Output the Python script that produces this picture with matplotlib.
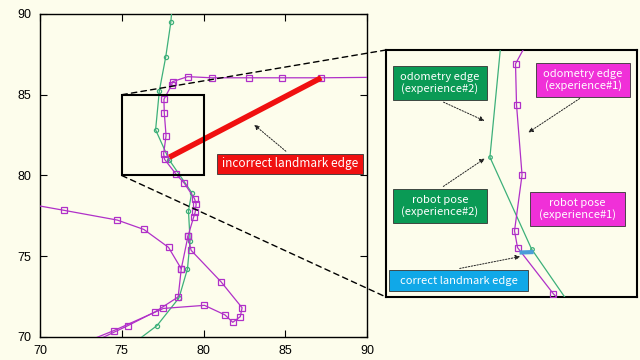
import matplotlib
matplotlib.use("Agg")
import matplotlib.pyplot as plt
from matplotlib.patches import Rectangle, FancyArrowPatch, ConnectionPatch

# ---------------- data ----------------
# experience #2 (green, odometry trajectory); first/last points are where the track leaves the frame
exp2_x = [78.06, 78.00, 77.69, 77.30, 77.07, 77.90, 79.28, 79.08, 79.18, 79.02, 78.50, 77.16, 76.10]
exp2_y = [90.20, 89.48, 87.34, 85.25, 82.83, 80.97, 78.94, 77.81, 75.97, 74.22, 72.42, 70.71, 69.90]

# experience #1 (purple) – main pass from the right, down the corridor
exp1a_x = [90.50, 87.20, 84.80, 82.78, 80.51, 79.03, 78.11, 78.05, 77.58, 77.60, 77.71, 77.56, 77.62,
           78.33, 78.82, 79.45, 79.55, 79.49, 79.39, 79.05, 78.64]
exp1a_y = [86.08, 86.05, 86.05, 86.05, 86.05, 86.12, 85.81, 85.60, 84.72, 83.89, 82.47, 81.34, 81.00,
           80.07, 79.53, 78.57, 78.22, 77.72, 77.40, 76.24, 74.22]
# experience #1 – branch from the left
exp1b_x = [69.50, 71.49, 74.73, 76.35, 77.86, 78.64, 78.45, 77.06, 75.37, 73.70]
exp1b_y = [78.20, 77.84, 77.24, 76.66, 75.55, 74.22, 72.48, 71.57, 70.70, 69.90]
# experience #1 – loop to the lower right
exp1c_x = [79.05, 79.24, 81.07, 82.36, 82.25, 81.79, 81.31, 80.06, 77.55, 74.50, 73.30]
exp1c_y = [76.24, 75.37, 73.42, 71.81, 71.26, 70.91, 71.37, 71.96, 71.77, 70.39, 69.90]

# landmark edges
wrong_edge_x = [77.91, 87.20]
wrong_edge_y = [81.13, 86.05]
right_edge_x = [77.66, 77.94]
right_edge_y = [80.90, 80.91]

zoom_box = (75, 80, 5, 5)  # x0, y0, w, h

xticks = [70, 75, 80, 85, 90]
yticks = [70, 75, 80, 85, 90]

# ---------------- style ----------------
BG = "#FDFDEC"
PURPLE = "#B030C8"
GREEN = "#3DB07A"
RED = "#F01010"
BLUE = "#4A9ED8"
GBOX = "#0A9A55"
MBOX = "#F030D8"
CBOX = "#10A8E8"

W, H = 640, 360
fig = plt.figure(figsize=(6.4, 3.6), dpi=100, facecolor=BG)

def fx(px):
    return px / W

def fy(py):
    return 1 - py / H

ax = fig.add_axes([fx(40), fy(337), fx(327), (337 - 14) / H])
ax.set_facecolor(BG)

def draw_tracks(a, ms_sq=4.6, ms_c=3.0):
    a.plot(exp2_x, exp2_y, color=GREEN, lw=0.9, marker="o", ms=ms_c, mfc="none",
           mec=GREEN, mew=0.9, markevery=slice(1, len(exp2_x) - 1), zorder=3)
    for xs, ys, me in ((exp1a_x, exp1a_y, slice(1, None)),
                       (exp1b_x, exp1b_y, slice(1, len(exp1b_x) - 1)),
                       (exp1c_x, exp1c_y, slice(0, len(exp1c_x) - 1))):
        a.plot(xs, ys, color=PURPLE, lw=0.9, marker="s", ms=ms_sq, mfc="none",
               mec=PURPLE, mew=0.9, markevery=me, zorder=4)

draw_tracks(ax)
ax.plot(wrong_edge_x, wrong_edge_y, color=RED, lw=4, solid_capstyle="butt", zorder=5)
ax.add_patch(Rectangle((zoom_box[0], zoom_box[1]), zoom_box[2], zoom_box[3],
                       fill=False, ec="black", lw=1.5, zorder=6))
ax.set_xlim(70, 90)
ax.set_ylim(70, 90)
ax.set_xticks(xticks)
ax.set_yticks(yticks)
ax.tick_params(direction="in", length=5, width=0.8, top=True, right=True,
               labelsize=9, pad=6)
for lab in ax.get_xticklabels() + ax.get_yticklabels():
    lab.set_fontfamily("Liberation Sans")
for s in ax.spines.values():
    s.set_linewidth(1.0)

# ---------------- inset ----------------
axi = fig.add_axes([fx(386), fy(297), fx(251), (297 - 50) / H])
axi.set_facecolor(BG)
draw_tracks(axi, ms_sq=3.8, ms_c=2.6)
axi.plot(right_edge_x, right_edge_y, color=BLUE, lw=3, solid_capstyle="butt", zorder=5)
axi.set_xlim(zoom_box[0], zoom_box[0] + zoom_box[2])
axi.set_ylim(zoom_box[1], zoom_box[1] + zoom_box[3])
axi.set_xticks([])
axi.set_yticks([])
for s in axi.spines.values():
    s.set_linewidth(1.5)

# dashed connectors
for (dx, dy), (ix, iy) in (((75, 85), (0, 1)), ((75, 80), (0, 0))):
    cp = ConnectionPatch(xyA=(dx, dy), coordsA=ax.transData,
                         xyB=(ix, iy), coordsB=axi.transAxes,
                         ls=(0, (4, 3)), lw=1.0, color="black", zorder=10)
    fig.add_artist(cp)

# ---------------- labels ----------------
FONT = ["Noto Sans CJK JP", "DejaVu Sans"]

def label(x0, y0, x1, y1, text, color, size=8):
    fig.add_artist(Rectangle((fx(x0), fy(y1)), fx(x1 - x0), (y1 - y0) / H,
                             transform=fig.transFigure, fc=color, ec="#333333",
                             lw=0.6, zorder=20))
    fig.text(fx((x0 + x1) / 2), fy((y0 + y1) / 2), text, color="white",
             ha="center", va="center", fontsize=size, family=FONT,
             linespacing=1.05, zorder=21)

def arrow(x0, y0, x1, y1):
    fig.add_artist(FancyArrowPatch((fx(x0), fy(y0)), (fx(x1), fy(y1)),
                                   transform=fig.transFigure, arrowstyle="-|>",
                                   mutation_scale=7, lw=0.7, ls=(0, (1.5, 1.5)),
                                   color="#222222", zorder=19))

label(217, 154, 363, 174, "incorrect landmark edge", RED, size=8.5)
arrow(288, 153, 252, 123)

label(393, 66, 487, 100, "odometry edge\n(experience#2)", GBOX)
label(536, 63, 630, 97, "odometry edge\n(experience#1)", MBOX)
label(393, 189, 487, 223, "robot pose\n(experience#2)", GBOX)
label(530, 192, 625, 226, "robot pose\n(experience#1)", MBOX)
label(389, 270, 528, 291, "correct landmark edge", CBOX)

arrow(441, 101, 487, 122)
arrow(582, 97, 526, 134)
arrow(441, 188, 487, 157)
arrow(457, 269, 523, 256)

fig.savefig("out.png", dpi=100, facecolor=BG)
